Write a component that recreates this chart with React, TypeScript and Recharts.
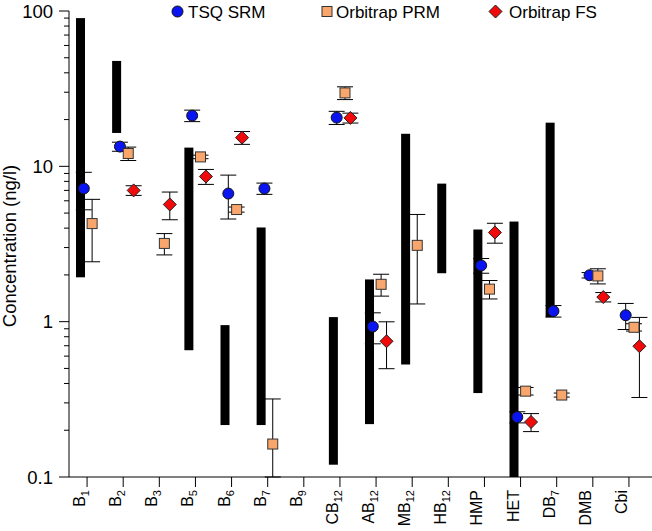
import { Bar, ComposedChart, ErrorBar, Legend, Scatter, XAxis, YAxis } from 'recharts';

const categories = ['B1', 'B2', 'B3', 'B5', 'B6', 'B7', 'B9', 'CB12', 'AB12', 'MB12', 'HB12', 'HMP', 'HET', 'DB7', 'DMB', 'Cbi'];

// black bars: reported concentration range (low / high), null = no range
const rangeLow = [1.93, 16.4, null, 0.655, 0.216, 0.216, null, 0.12, 0.219, 0.53, 2.05, 0.347, 0.1, 1.07, null, null];
const rangeHigh = [90, 47.7, null, 13.2, 0.95, 4.04, null, 1.07, 1.87, 16.2, 7.74, 3.92, 4.41, 19.1, null, null];

// measured means and SD per method (B7 PRM lower whisker runs past 0.1)
const tsqSrm = [7.2, 13.4, null, 21.2, 6.68, 7.2, null, 20.6, 0.93, null, null, 2.3, 0.243, 1.17, 1.99, 1.1];
const tsqSrmSd = [1.95, 0.9, null, 1.8, 2.1, 0.6, null, 2.0, 0.21, null, null, 0.25, 0.02, 0.1, 0.08, 0.21];
const orbiPrm = [4.28, 12.1, 3.19, 11.5, 5.27, 0.163, null, 29.7, 1.74, 3.1, null, 1.62, 0.357, 0.337, 1.97, 0.92];
const orbiPrmSd = [1.85, 1.2, 0.5, 0.3, 0.2, [0.063, 0.155], null, 2.8, 0.28, 1.8, null, 0.22, 0.02, 0.01, 0.22, 0.05];
const orbiFs = [null, 7.0, 5.68, 8.6, 15.3, null, null, 20.5, 0.748, null, null, 3.75, 0.226, null, 1.44, 0.695];
const orbiFsSd = [null, 0.5, 1.15, 0.95, 1.45, null, null, 1.5, 0.25, null, null, 0.55, 0.03, null, 0.1, 0.37];

const yDecades = [0.1, 1, 10];
const yTicks = [...yDecades.flatMap((d) => [1, 2, 3, 4, 5, 6, 7, 8, 9].map((k) => d * k)), 100];

const W = 652;
const H = 531;
const FONT = 'Arial, "Liberation Sans", sans-serif';
const AXIS_PAD = { left: 0, right: 5 };
const BAR_SHIFT = -7;

const BLUE = '#0a14f0';
const ORANGE = '#f9a66c';
const RED = '#f00a0a';

const CircleMark = ({ cx, cy }: any) => <circle cx={cx} cy={cy} r={5.5} fill={BLUE} stroke="#111" strokeWidth={1} />;
const SquareMark = ({ cx, cy }: any) => (
  <rect x={cx - 5} y={cy - 5} width={10} height={10} fill={ORANGE} stroke="#333" strokeWidth={1} />
);
const DiamondMark = ({ cx, cy }: any) => (
  <polygon
    points={`${cx},${cy - 6.5} ${cx + 6.5},${cy} ${cx},${cy + 6.5} ${cx - 6.5},${cy}`}
    fill={RED}
    stroke="#222"
    strokeWidth={1}
  />
);

const series = [
  { name: 'TSQ SRM', values: tsqSrm, sd: tsqSrmSd, offset: -0.09, Mark: CircleMark },
  { name: 'Orbitrap PRM', values: orbiPrm, sd: orbiPrmSd, offset: 0.14, Mark: SquareMark },
  { name: 'Orbitrap FS', values: orbiFs, sd: orbiFsSd, offset: 0.29, Mark: DiamondMark },
];

function RangeBar(props: any) {
  const { x, y, width, height, payload } = props;
  if (!payload || !payload.range || !isFinite(y) || !isFinite(height)) return <g />;
  return <rect x={x + BAR_SHIFT} y={Math.min(y, y + height)} width={width} height={Math.abs(height)} fill="#000" />;
}

// rotated category label, trailing digits drawn as subscript
function renderXTick(props: any) {
  const x = Number(props.x);
  const y = Number(props.y);
  const label = String(props.payload?.value ?? '');
  const m = /^(.*?)(\d+)$/.exec(label);
  const base = m ? m[1] : label;
  const sub = m ? m[2] : null;
  return (
    <g transform={`translate(${x} ${y}) rotate(-90)`}>
      <text x={0} y={-2} textAnchor="end" fontSize={16} fill="#000" fontFamily={FONT}>
        {base}
        {sub && (
          <tspan dy={4} fontSize={11}>
            {sub}
          </tspan>
        )}
      </text>
    </g>
  );
}

function YTick({ x, y, payload }: any) {
  const lg = Math.log10(payload.value);
  const major = Math.abs(lg - Math.round(lg)) < 1e-9;
  return (
    <g>
      <line x1={x - (major ? 10 : 5)} x2={x} y1={y} y2={y} stroke="#000" strokeWidth={1} />
      {major && (
        <text x={x - 16} y={y} textAnchor="end" dominantBaseline="central" fontSize={18.5} fill="#000" fontFamily={FONT}>
          {String(Math.round(payload.value * 10) / 10)}
        </text>
      )}
    </g>
  );
}

function YTitle() {
  return (
    <text
      transform="translate(16,246) rotate(-90)"
      textAnchor="middle"
      fontSize={18.5}
      fill="#000"
      fontFamily={FONT}
    >
      Concentration (ng/l)
    </text>
  );
}

function LegendContent() {
  const items = [
    { x: 177.5, tx: 188, ...series[0] },
    { x: 327, tx: 336, ...series[1] },
    { x: 495.5, tx: 509, ...series[2] },
  ];
  return (
    <svg width={W} height={26}>
      {items.map((it) => (
        <g key={it.name}>
          <it.Mark cx={it.x} cy={11.5} />
          <text x={it.tx} y={17.5} fontSize={17} fill="#000" fontFamily={FONT}>
            {it.name}
          </text>
        </g>
      ))}
    </svg>
  );
}

export default function App() {
  const barData = categories.map((name, i) => ({
    name,
    range: rangeLow[i] == null ? null : [rangeLow[i], rangeHigh[i]],
  }));

  return (
    <div style={{ position: 'absolute', left: 0, top: 0, width: W, height: H, background: '#fff' }}>
      <ComposedChart width={W} height={H} data={barData} margin={{ top: 11, right: 0, bottom: 0, left: 0 }}>
        <XAxis
          xAxisId="cat"
          dataKey="name"
          type="category"
          interval={0}
          padding={AXIS_PAD}
          height={54}
          tickSize={10}
          tickMargin={3}
          stroke="#000"
          tick={renderXTick}
        />
        <XAxis xAxisId="num" dataKey="x" type="number" domain={[-0.5, 15.5]} allowDataOverflow hide padding={AXIS_PAD} />
        <YAxis
          scale="log"
          domain={[0.1, 100]}
          allowDataOverflow
          ticks={yTicks}
          interval={0}
          width={69}
          tickSize={0}
          tickMargin={0}
          tickLine={false}
          stroke="#000"
          tick={<YTick />}
          label={<YTitle />}
        />
        <Bar xAxisId="cat" dataKey="range" barSize={9} shape={RangeBar} isAnimationActive={false} />
        {series.map((s) => (
          <Scatter
            key={s.name}
            name={s.name}
            xAxisId="num"
            dataKey="y"
            data={s.values
              .map((v, i) => (v == null ? null : { x: i + s.offset, y: v, err: s.sd[i] }))
              .filter(Boolean)}
            shape={s.Mark}
            isAnimationActive={false}
          >
            <ErrorBar dataKey="err" direction="y" width={8} stroke="#000" strokeWidth={1} />
          </Scatter>
        ))}
        <Legend
          verticalAlign="middle"
          align="center"
          wrapperStyle={{ top: 0, left: 0, width: W, height: 26 }}
          content={LegendContent}
        />
      </ComposedChart>
    </div>
  );
}
